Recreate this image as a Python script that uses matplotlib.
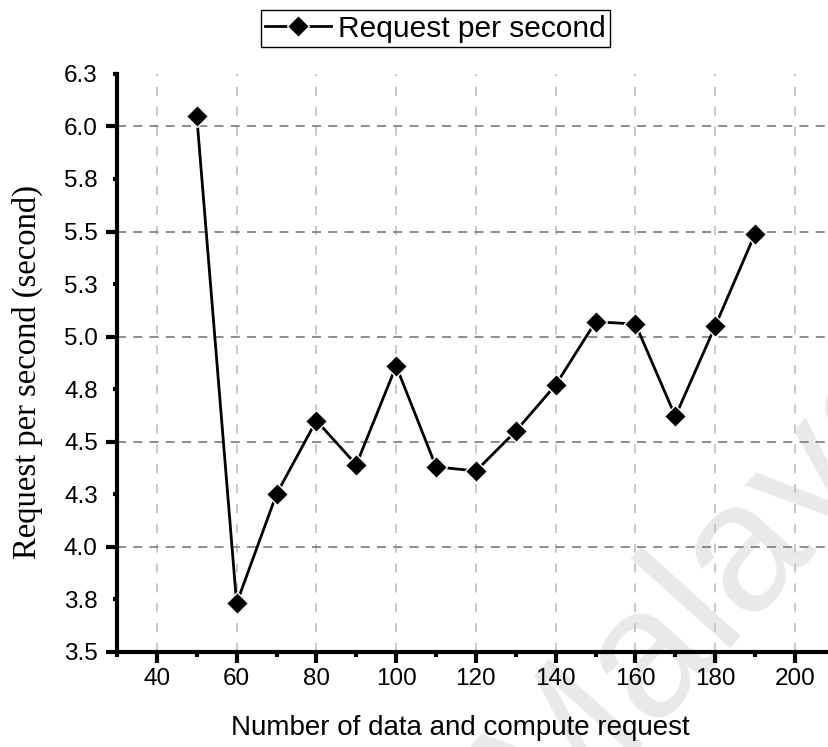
import math
import matplotlib.pyplot as plt
from matplotlib.ticker import MultipleLocator, FuncFormatter

# requests handled per second for each batch size
n_requests = [50, 60, 70, 80, 90, 100, 110, 120, 130, 140, 150, 160, 170, 180, 190]
req_per_sec = [6.05, 3.73, 4.25, 4.60, 4.39, 4.86, 4.38, 4.36, 4.55, 4.77, 5.07, 5.06, 4.62, 5.05, 5.49]

plt.rcParams['font.family'] = ['Liberation Sans', 'DejaVu Sans']


def one_decimal(v, pos):
    # round half up so 6.25 shows as 6.3
    return "%.1f" % (math.floor(float(v) * 10 + 0.5 + 1e-9) / 10)


fig = plt.figure(figsize=(8.29, 7.47), dpi=100)
ax = fig.add_axes([0.1411, 0.1276, 0.866, 0.7734])
ax.patch.set_alpha(0)

# faint repository watermark behind the plot
fig.text(0.54, -0.10, "Malaya", fontsize=132, color="#e9e9e9", rotation=48,
         ha="left", va="baseline", zorder=-1)

ax.plot(n_requests, req_per_sec, color="black", lw=2.0, marker="D", markersize=11.5,
        markerfacecolor="black", markeredgecolor="white", markeredgewidth=1.0,
        label="Request per second", zorder=3)

ax.set_xlim(30, 210)
ax.set_ylim(3.5, 6.25)

ax.xaxis.set_major_locator(MultipleLocator(20))
ax.xaxis.set_minor_locator(MultipleLocator(10))
ax.yaxis.set_major_locator(MultipleLocator(0.5))
ax.yaxis.set_minor_locator(MultipleLocator(0.25))
ax.yaxis.set_major_formatter(FuncFormatter(one_decimal))
ax.yaxis.set_minor_formatter(FuncFormatter(one_decimal))

for side in ("top", "right"):
    ax.spines[side].set_visible(False)
for side in ("left", "bottom"):
    ax.spines[side].set_linewidth(3.0)

ax.tick_params(which="both", direction="out", width=3.0, labelsize=17.5)
ax.tick_params(axis="y", which="major", length=8, pad=5.8)
ax.tick_params(axis="y", which="minor", length=3, pad=10.8)
ax.tick_params(axis="x", which="major", length=8, pad=3.5)
ax.tick_params(axis="x", which="minor", length=3.5, labelbottom=False)

ax.grid(True, axis="y", which="major", color="#858585", lw=1.3, ls=(0, (5, 4)))
ax.grid(True, axis="x", which="major", color="#c4c4c4", lw=1.3, ls=(0, (5, 6)))
ax.set_axisbelow(True)

ax.set_xlabel("Number of data and compute request", fontsize=20)
ax.xaxis.set_label_coords(0.478, -0.11)
ax.set_ylabel("Request per second (second)", fontsize=23.5, family=["Liberation Serif", "DejaVu Serif"])
ax.yaxis.set_label_coords(-0.103, 0.484)

leg = fig.legend(loc="upper center", bbox_to_anchor=(0.5253, 0.986), fontsize=21.5,
                 handlelength=2.2, handletextpad=0.25, borderpad=0.15, borderaxespad=0.0,
                 fancybox=False, edgecolor="black", framealpha=1)
leg.get_frame().set_linewidth(1.0)

fig.savefig("out.png", dpi=100)
